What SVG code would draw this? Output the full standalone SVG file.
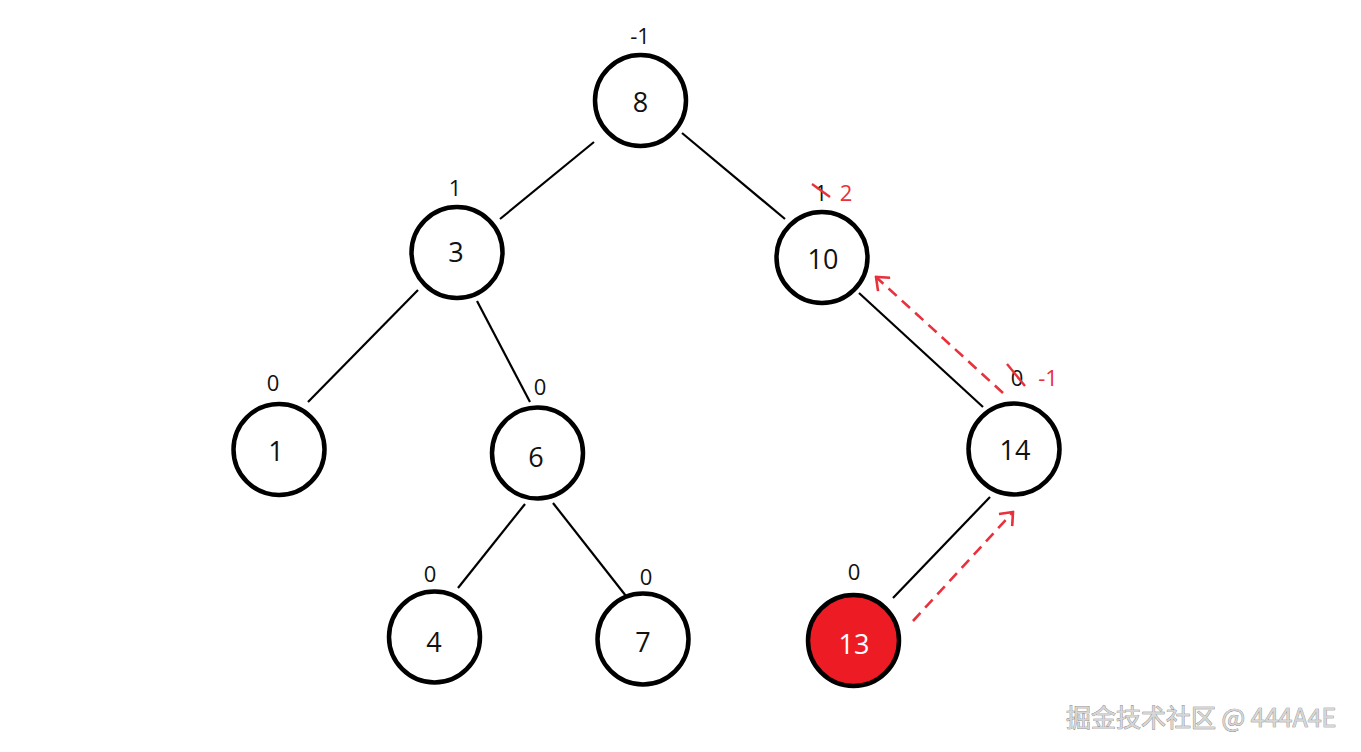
<svg xmlns="http://www.w3.org/2000/svg" width="1361" height="752" viewBox="0 0 1361 752">
<defs>
<style>
.node{fill:#fff;stroke:#000;stroke-width:4.5}
.hot{fill:#ed1c24;stroke:#000;stroke-width:4.5}
.nt{font-family:"Open Sans","Noto Sans",sans-serif;font-size:27px;text-anchor:middle;fill:#111}
.nw{fill:#fff}
.lb{font-family:"Open Sans","Noto Sans",sans-serif;font-size:22px;text-anchor:middle;fill:#111}
.red{fill:#e8313d}
.edge{stroke:#000;stroke-width:2.2;fill:none}
.dash{stroke:#e8313d;stroke-width:2.6;fill:none;stroke-dasharray:11 7}
.strike{stroke:#e8313d;stroke-width:2.4}
.wm{font-family:"Noto Sans CJK SC","Noto Sans",sans-serif;font-size:25px;fill:#d6d6d6;stroke:#7a7a7a;stroke-width:0.7;paint-order:stroke}
</style>
<marker id="chev" viewBox="0 0 20 20" refX="18" refY="10" markerWidth="20" markerHeight="20" markerUnits="userSpaceOnUse" orient="auto">
<path d="M7,1 L18,10 L7,19" fill="none" stroke="#e8313d" stroke-width="2.6"/>
</marker>
</defs>
<rect width="1361" height="752" fill="#fff"/>
<g id="connectors">
<line class="edge" x1="594" y1="142" x2="500" y2="219"/>
<line class="edge" x1="682" y1="133" x2="785" y2="219"/>
<line class="edge" x1="418" y1="290" x2="308" y2="402"/>
<line class="edge" x1="477" y1="301" x2="530" y2="402"/>
<line class="edge" x1="525" y1="504" x2="458" y2="588"/>
<line class="edge" x1="553" y1="503" x2="626" y2="596"/>
<line class="edge" x1="859" y1="293" x2="983" y2="407"/>
<line class="edge" x1="990" y1="497" x2="893" y2="598"/>
<line class="dash" x1="1003" y1="393" x2="876" y2="277" marker-end="url(#chev)"/>
<line class="dash" x1="913" y1="621" x2="1013" y2="512" marker-end="url(#chev)"/>
</g>
<g id="n8"><circle class="node" cx="640.5" cy="100.5" r="45.5"/><text class="nt" x="640.5" y="112">8</text><text class="lb" x="640" y="44">-1</text></g>
<g id="n3"><circle class="node" cx="457" cy="252.5" r="45.5"/><text class="nt" x="456" y="262">3</text><text class="lb" x="455" y="196">1</text></g>
<g id="n10"><circle class="node" cx="822" cy="257.5" r="45.5"/><text class="nt" x="823" y="269">10</text><text class="lb" x="821" y="201">1</text><line class="strike" x1="812" y1="184" x2="830" y2="197"/><text class="lb red" x="846" y="201">2</text></g>
<g id="n1"><circle class="node" cx="279" cy="449.5" r="45.5"/><text class="nt" x="276" y="461">1</text><text class="lb" x="273" y="391">0</text></g>
<g id="n6"><circle class="node" cx="537.5" cy="453" r="45.5"/><text class="nt" x="536" y="467">6</text><text class="lb" x="540" y="395">0</text></g>
<g id="n14"><circle class="node" cx="1014" cy="449" r="45.5"/><text class="nt" x="1015" y="460">14</text><text class="lb" x="1017" y="386">0</text><line class="strike" x1="1007" y1="364" x2="1025" y2="386"/><text class="lb red" x="1048" y="386">-1</text></g>
<g id="n4"><circle class="node" cx="434.5" cy="637" r="45.5"/><text class="nt" x="434" y="652">4</text><text class="lb" x="430" y="582">0</text></g>
<g id="n7"><circle class="node" cx="643" cy="639" r="45.5"/><text class="nt" x="643" y="652">7</text><text class="lb" x="646" y="585">0</text></g>
<g id="n13"><circle class="hot" cx="853.5" cy="640.5" r="45.5"/><text class="nt nw" x="854" y="654">13</text><text class="lb" x="854" y="580">0</text></g>
<text class="wm" x="1066" y="727">掘金技术社区 @ 444A4E</text>
</svg>
